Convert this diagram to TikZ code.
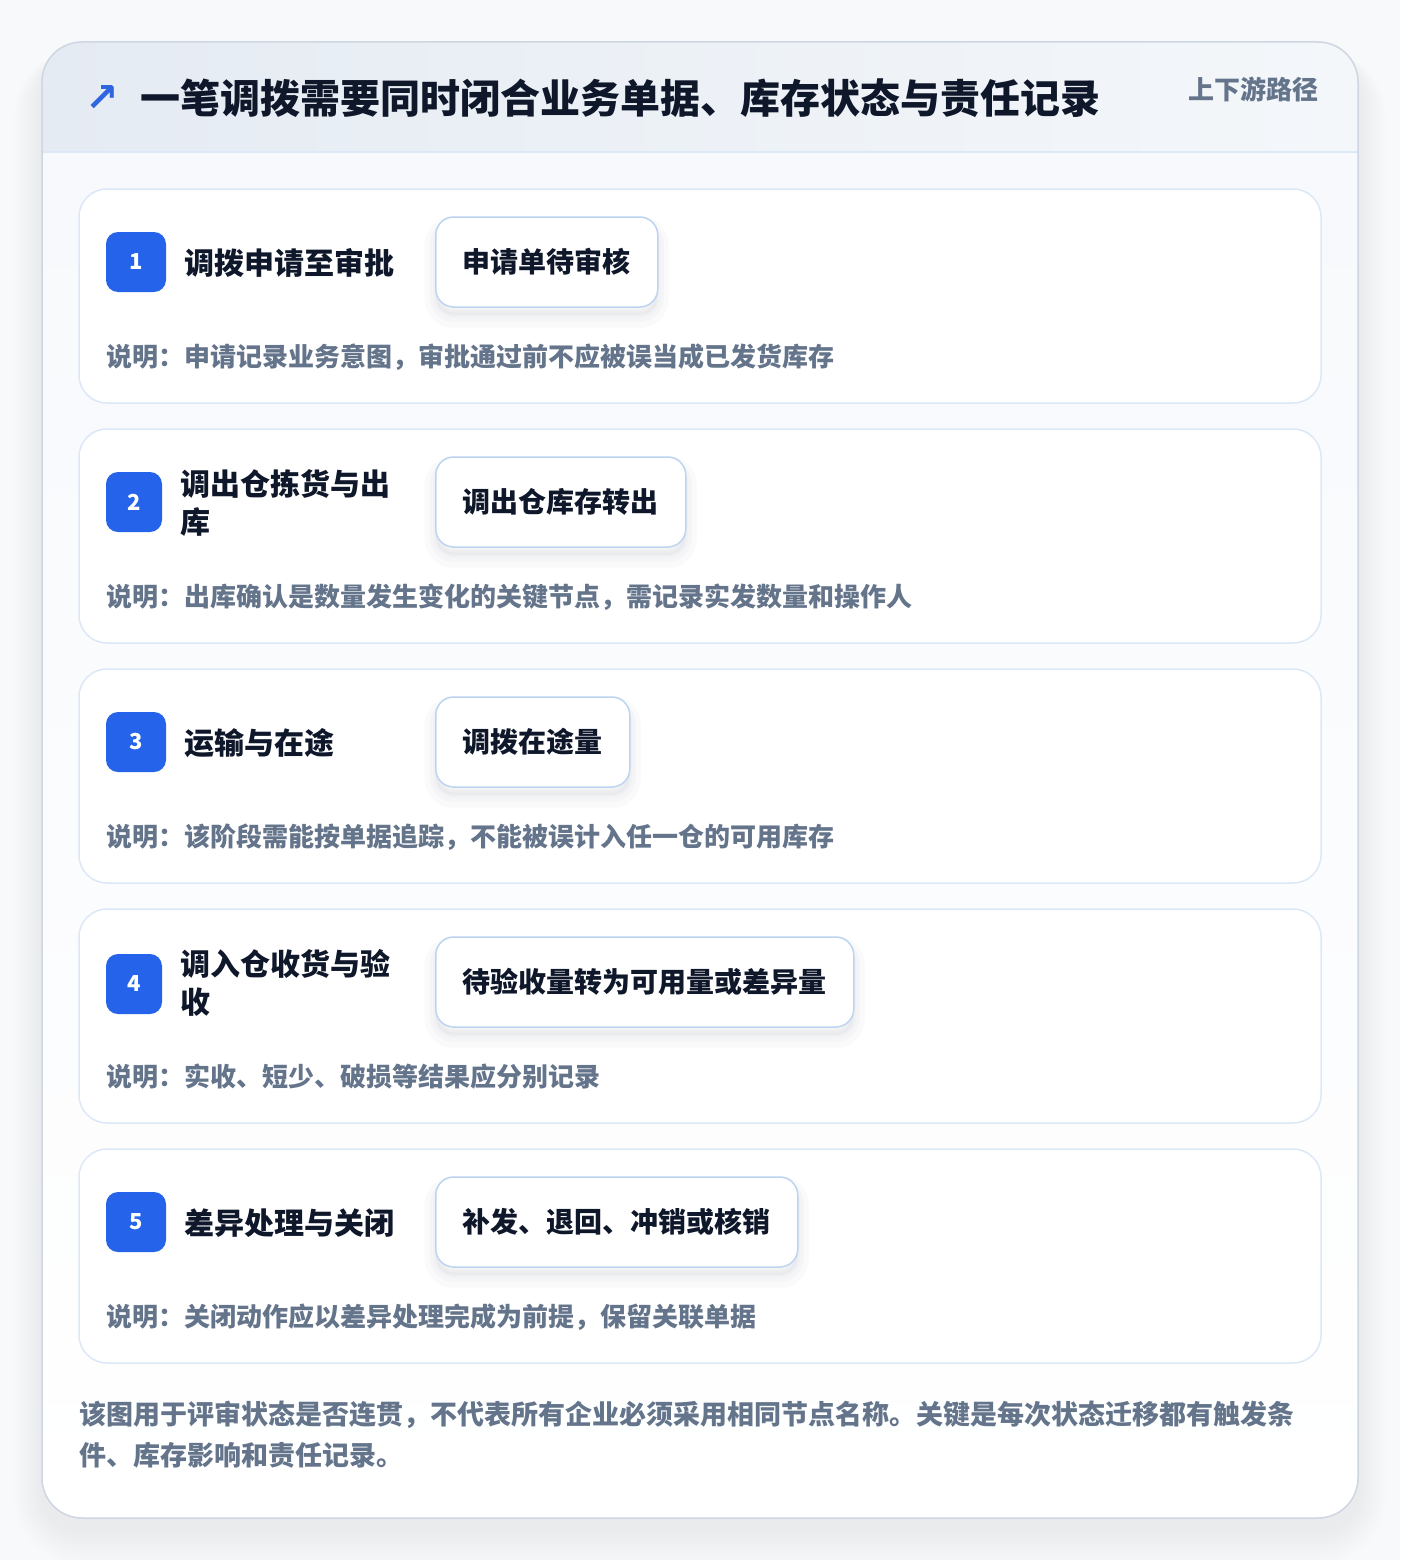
\documentclass[tikz,border=0pt]{standalone}
\usepackage{fontspec}
\setmainfont{Noto Sans CJK SC}
\newfontfamily\symfont{DejaVu Sans}
\definecolor{pagebg}{HTML}{F8F9FA}
\definecolor{inkdark}{HTML}{0F172A}
\definecolor{notegray}{HTML}{64748B}
\definecolor{badgeblue}{HTML}{2563EB}
\definecolor{arrowblue}{HTML}{2F66E0}
\definecolor{cardline}{HTML}{DCE8F7}
\definecolor{boxline}{HTML}{BDD4F1}
\definecolor{frameline}{HTML}{CDD6E2}
\definecolor{headleft}{HTML}{E5EBF3}
\definecolor{headright}{HTML}{F4F7FA}
\definecolor{bodytop}{HTML}{F7F9FC}
\definecolor{shadowc}{HTML}{1E293B}

\begin{document}
\begin{tikzpicture}[x=1pt,y=-1pt,
  frame/.style={draw=frameline, line width=1.5pt, rounded corners=40pt},
  card/.style={draw=cardline, line width=1.5pt, fill=white, rounded corners=28pt},
  badge/.style={fill=badgeblue, rounded corners=12pt, minimum width=60pt, minimum height=60pt, inner sep=0pt, text=white, font=\bfseries\fontsize{22}{24}\selectfont},
  steptitle/.style={anchor=west, inner sep=0pt, align=left, text=inkdark, font=\bfseries\fontsize{30}{38}\selectfont},
  softshadow/.style={
    preaction={draw=shadowc, draw opacity=0.018, line width=22pt, transform canvas={yshift=-10pt}},
    preaction={draw=shadowc, draw opacity=0.02, line width=12pt, transform canvas={yshift=-9pt}},
    preaction={draw=shadowc, draw opacity=0.02, line width=5pt, transform canvas={yshift=-8pt}},
    preaction={fill=shadowc, fill opacity=0.03, transform canvas={yshift=-8pt}}},
  statebox/.style={anchor=west, draw=boxline, line width=1.5pt, fill=white, rounded corners=18pt, minimum height=90pt, inner xsep=27pt, inner ysep=0pt, text=inkdark, font=\bfseries\fontsize{28}{32}\selectfont, softshadow},
  note/.style={anchor=west, inner sep=0pt, text=notegray, font=\bfseries\fontsize{26}{30}\selectfont}]
\useasboundingbox (0,0) rectangle (1400,1560);
\fill [pagebg] (0,0) rectangle (1400,1560);
\foreach \i in {1,...,14}
  \fill [shadowc, opacity=0.005, rounded corners=40pt+\i*2pt] (42-\i*2,56-\i*0.5) rectangle (1358+\i*2,1530+\i*2.5);
\fill [white, rounded corners=40pt] (42,42) rectangle (1358,1518);
\begin{scope}
\clip [rounded corners=40pt] (42,42) rectangle (1358,1518);
\shade [left color=headleft, right color=headright] (42,42) rectangle (1358,152);
\shade [top color=bodytop, bottom color=white] (42,152) rectangle (1358,1518);
\end{scope}
\draw [cardline, line width=1.5pt] (42,152) -- (1358,152);
\draw [frame] (42,42) rectangle (1358,1518);

\node [anchor=center, inner sep=0pt, text=arrowblue, font=\symfont\bfseries\fontsize{40}{44}\selectfont] (icon) at (102,99) {↗};
\node [anchor=west, inner sep=0pt, text=inkdark, font=\bfseries\fontsize{40}{48}\selectfont] (title) at (140,98) {一笔调拨需要同时闭合业务单据、库存状态与责任记录};
\node [anchor=west, inner sep=0pt, text=notegray, font=\bfseries\fontsize{26}{30}\selectfont] (path) at (1188,89) {上下游路径};

\draw [card] (79,189) rectangle (1321,403);
\node [badge] (badge1) at (136,262) {1};
\node [steptitle] (step1) at (184,263) {调拨申请至审批};
\node [statebox] (state1) at (435,262) {申请单待审核};
\node [note] (note1) at (106,357) {说明：申请记录业务意图，审批通过前不应被误当成已发货库存};

\draw [card] (79,429) rectangle (1321,643);
\node [badge, minimum width=56pt] (badge2) at (134,502) {2};
\node [steptitle] (step2) at (180,503) {调出仓拣货与出\\库};
\node [statebox] (state2) at (435,502) {调出仓库存转出};
\node [note] (note2) at (106,597) {说明：出库确认是数量发生变化的关键节点，需记录实发数量和操作人};

\draw [card] (79,669) rectangle (1321,883);
\node [badge] (badge3) at (136,742) {3};
\node [steptitle] (step3) at (184,743) {运输与在途};
\node [statebox] (state3) at (435,742) {调拨在途量};
\node [note] (note3) at (106,837) {说明：该阶段需能按单据追踪，不能被误计入任一仓的可用库存};

\draw [card] (79,909) rectangle (1321,1123);
\node [badge, minimum width=56pt] (badge4) at (134,984) {4};
\node [steptitle] (step4) at (180,983) {调入仓收货与验\\收};
\node [statebox] (state4) at (435,982) {待验收量转为可用量或差异量};
\node [note] (note4) at (106,1077) {说明：实收、短少、破损等结果应分别记录};

\draw [card] (79,1149) rectangle (1321,1363);
\node [badge] (badge5) at (136,1222) {5};
\node [steptitle] (step5) at (184,1223) {差异处理与关闭};
\node [statebox] (state5) at (435,1222) {补发、退回、冲销或核销};
\node [note] (note5) at (106,1317) {说明：关闭动作应以差异处理完成为前提，保留关联单据};

\node [anchor=north west, inner sep=0pt, align=left, text=notegray, font=\bfseries\fontsize{27}{41}\selectfont] (footer) at (79,1401) {该图用于评审状态是否连贯，不代表所有企业必须采用相同节点名称。关键是每次状态迁移都有触发条\\件、库存影响和责任记录。};
\end{tikzpicture}
\end{document}
